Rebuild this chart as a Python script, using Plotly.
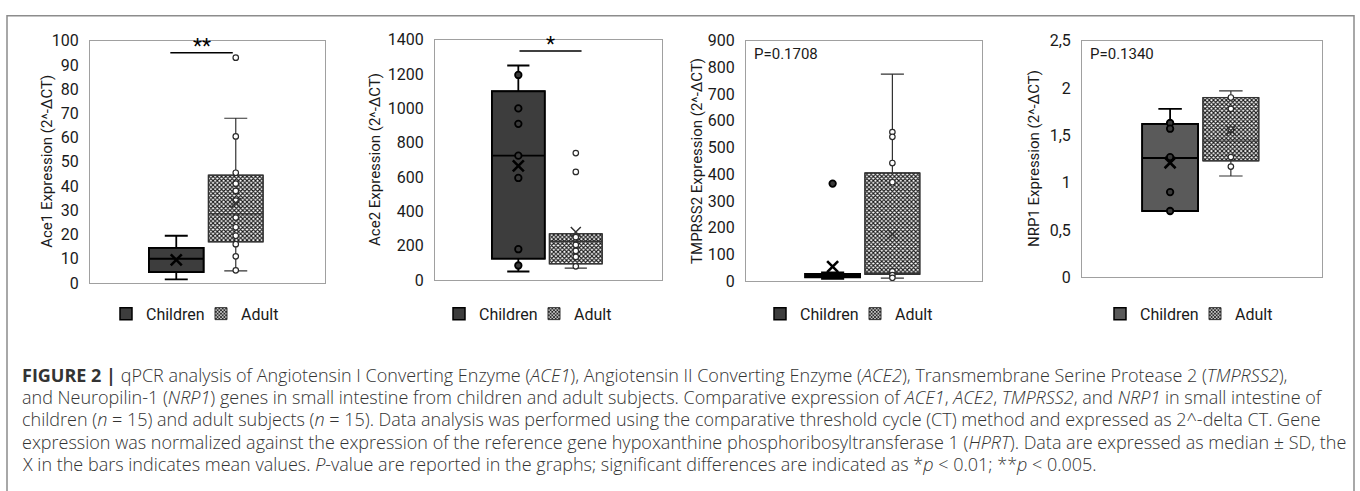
import plotly.graph_objects as go

W, H = 1360, 491

# ---------------- data (index 0 = Children, index 1 = Adult) ----------------
groups = ["Children", "Adult"]
group_pos = [0, 1]

ace1_q1 = [4.5, 17]
ace1_median = [10, 28.5]
ace1_q3 = [14.5, 44.5]
ace1_lower = [1.5, 5]
ace1_upper = [19.5, 68]
ace1_mean = [9.5, 33]
ace1_children_pts = []
ace1_adult_pts = [93, 60.5, 45.5, 41, 38, 34, 27, 23, 19.5, 16, 11, 5.2]

ace2_q1 = [125, 95]
ace2_median = [725, 225]
ace2_q3 = [1100, 270]
ace2_lower = [50, 70]
ace2_upper = [1250, 270]
ace2_mean = [665, 280]
ace2_children_pts = [1195, 1000, 910, 725, 595, 180, 85]
ace2_adult_pts = [740, 630, 250, 205, 170, 135, 80]

tmprss2_q1 = [14, 25]
tmprss2_median = [20, 30]
tmprss2_q3 = [27, 405]
tmprss2_lower = [8, 11]
tmprss2_upper = [32, 775]
tmprss2_mean = [54, 175]
tmprss2_children_pts = [365]
tmprss2_adult_pts = [558, 540, 442, 370, 36, 22, 12]

nrp1_q1 = [0.70, 1.23]
nrp1_median = [1.26, 1.44]
nrp1_q3 = [1.62, 1.90]
nrp1_lower = [0.70, 1.07]
nrp1_upper = [1.78, 1.97]
nrp1_mean = [1.21, 1.55]
nrp1_children_pts = [1.63, 1.57, 1.27, 0.90, 0.70]
nrp1_adult_pts = [1.90, 1.78, 1.56, 1.27, 1.17]

y_titles = ["Ace1 Expression (2^-ΔCT)", "Ace2 Expression (2^-ΔCT)",
            "TMPRSS2 Expression (2^-ΔCT)", "NRP1 Expression (2^-ΔCT)"]
y_ranges = [[0, 100], [0, 1400], [0, 900], [0, 2.5]]
y_dticks = [10, 200, 100, 0.5]
nrp1_tickvals = [0, 0.5, 1, 1.5, 2, 2.5]
nrp1_ticktext = ["0", "0,5", "1", "1,5", "2", "2,5"]
p_labels = [None, None, "P=0.1708", "P=0.1340"]
sig_labels = ["**", "*", None, None]
sig_levels = [95, 1335, None, None]
sig_spans = [[-0.1, 0.95], [0.02, 1.1], None, None]

caption_lines = [
    "<b>FIGURE 2 |</b> qPCR analysis of Angiotensin I Converting Enzyme (<i>ACE1</i>), Angiotensin II Converting Enzyme (<i>ACE2</i>), Transmembrane Serine Protease 2 (<i>TMPRSS2</i>),",
    "and Neuropilin-1 (<i>NRP1</i>) genes in small intestine from children and adult subjects. Comparative expression of <i>ACE1</i>, <i>ACE2</i>, <i>TMPRSS2</i>, and <i>NRP1</i> in small intestine of",
    "children (<i>n</i> = 15) and adult subjects (<i>n</i> = 15). Data analysis was performed using the comparative threshold cycle (CT) method and expressed as 2^-delta CT. Gene",
    "expression was normalized against the expression of the reference gene hypoxanthine phosphoribosyltransferase 1 (<i>HPRT</i>). Data are expressed as median ± SD, the",
    "X in the bars indicates mean values. <i>P</i>-value are reported in the graphs; significant differences are indicated as *<i>p</i> &lt; 0.01; **<i>p</i> &lt; 0.005.",
]

panels = [
    (ace1_q1, ace1_median, ace1_q3, ace1_lower, ace1_upper, ace1_mean, ace1_children_pts, ace1_adult_pts),
    (ace2_q1, ace2_median, ace2_q3, ace2_lower, ace2_upper, ace2_mean, ace2_children_pts, ace2_adult_pts),
    (tmprss2_q1, tmprss2_median, tmprss2_q3, tmprss2_lower, tmprss2_upper, tmprss2_mean, tmprss2_children_pts, tmprss2_adult_pts),
    (nrp1_q1, nrp1_median, nrp1_q3, nrp1_lower, nrp1_upper, nrp1_mean, nrp1_children_pts, nrp1_adult_pts),
]

# ---------------- layout geometry (pixels) ----------------
plot_x = [(90, 325), (435, 662), (746, 982), (1082, 1322)]
plot_y = [(33, 285), (32, 282), (33, 283), (33, 279)]
title_x = [47, 375, 697, 1034]
legend_left = [106, 439, 760, 1100]
legend_y = 317
caption_x = 20
caption_y = [381, 404, 427, 450, 473]
children_fill = ["#3d3d3d", "#3d3d3d", "#3d3d3d", "#5a5a5a"]

FONT = "Roboto, 'Open Sans', Arial, sans-serif"
CAP_FONT = "'Open Sans', 'Liberation Sans', Arial, sans-serif"
BOXW = 0.92

fig = go.Figure()

def ax(i):
    return ("x" if i == 0 else f"x{i+1}", "y" if i == 0 else f"y{i+1}")

def leg(i):
    return "legend" if i == 0 else f"legend{i+1}"

# bars (box bodies with fill / pattern) -> also legend entries
for i, p in enumerate(panels):
    q1, med, q3, lo, up, mn, cp, ap = p
    xa, ya = ax(i)
    heights = [q3[k] - q1[k] for k in range(2)]
    fig.add_trace(go.Bar(
        x=[group_pos[0]], y=[heights[0]], base=[q1[0]], width=BOXW,
        marker=dict(color=children_fill[i], line=dict(color="black", width=1.5)),
        name=groups[0], xaxis=xa, yaxis=ya, legend=leg(i), hoverinfo="skip"))
    fig.add_trace(go.Bar(
        x=[group_pos[1]], y=[heights[1]], base=[q1[1]], width=BOXW,
        marker=dict(color="white", line=dict(color="#333333", width=1),
                    pattern=dict(shape="x", size=3, solidity=0.6,
                                 fgcolor="#1a1a1a", bgcolor="white", fillmode="replace")),
        name=groups[1], xaxis=xa, yaxis=ya, legend=leg(i), hoverinfo="skip"))

# boxes (outline, median, whiskers)
for i, p in enumerate(panels):
    q1, med, q3, lo, up, mn, cp, ap = p
    xa, ya = ax(i)
    for k in range(2):
        fig.add_trace(go.Box(
            x=[group_pos[k]], q1=[q1[k]], median=[med[k]], q3=[q3[k]],
            lowerfence=[lo[k]], upperfence=[up[k]], width=BOXW,
            whiskerwidth=0.42, boxpoints=False,
            fillcolor="rgba(0,0,0,0)",
            line=dict(color="black" if k == 0 else "#333333", width=1.8 if k == 0 else 1.2),
            xaxis=xa, yaxis=ya, showlegend=False, hoverinfo="skip"))

# points and means
for i, p in enumerate(panels):
    q1, med, q3, lo, up, mn, cp, ap = p
    xa, ya = ax(i)
    if cp:
        fig.add_trace(go.Scatter(
            x=[group_pos[0]] * len(cp), y=cp, mode="markers",
            marker=dict(symbol="circle", size=6.5, color="#3a3a3a", line=dict(color="black", width=1.8)),
            xaxis=xa, yaxis=ya, showlegend=False, hoverinfo="skip"))
    if ap:
        fig.add_trace(go.Scatter(
            x=[group_pos[1]] * len(ap), y=ap, mode="markers",
            marker=dict(symbol="circle", size=5.5, color="white", line=dict(color="#2a2a2a", width=1.2)),
            xaxis=xa, yaxis=ya, showlegend=False, hoverinfo="skip"))
    fig.add_trace(go.Scatter(
        x=[group_pos[0]], y=[mn[0]], mode="markers",
        marker=dict(symbol="x-thin", size=11, line=dict(color="black", width=2.6)),
        xaxis=xa, yaxis=ya, showlegend=False, hoverinfo="skip"))
    fig.add_trace(go.Scatter(
        x=[group_pos[1]], y=[mn[1]], mode="markers",
        marker=dict(symbol="x-thin", size=10, line=dict(color="#333333", width=1.5)),
        xaxis=xa, yaxis=ya, showlegend=False, hoverinfo="skip"))

layout = dict(
    width=W, height=H, margin=dict(l=0, r=0, t=0, b=0),
    paper_bgcolor="white", plot_bgcolor="white",
    barmode="overlay", boxmode="overlay",
    font=dict(family=FONT, color="#1a1a1a"),
)
annotations = []
shapes = []
for i in range(4):
    xs = "xaxis" if i == 0 else f"xaxis{i+1}"
    ys = "yaxis" if i == 0 else f"yaxis{i+1}"
    xa, ya = ax(i)
    x0, x1 = plot_x[i]
    yt, yb = plot_y[i]
    layout[xs] = dict(domain=[x0 / W, x1 / W], range=[-1.45, 2.5], anchor=ya,
                      showticklabels=False, ticks="", showgrid=False, zeroline=False,
                      showline=True, mirror=True, linecolor="#a0a0a0", linewidth=1, fixedrange=True)
    yd = dict(domain=[1 - yb / H, 1 - yt / H], range=y_ranges[i], anchor=xa,
              showgrid=False, zeroline=False, ticks="", showline=True, mirror=True,
              linecolor="#a0a0a0", linewidth=1, tickfont=dict(size=16, family=FONT, color="#1a1a1a"),
              ticklabelstandoff=7, fixedrange=True)
    if i == 3:
        yd.update(tickmode="array", tickvals=nrp1_tickvals, ticktext=nrp1_ticktext)
    else:
        yd.update(tickmode="linear", tick0=0, dtick=y_dticks[i])
    layout[ys] = yd
    # y title
    annotations.append(dict(text=y_titles[i], textangle=-90, xref="paper", yref="paper",
                            x=title_x[i] / W, y=1 - (yt + yb) / 2 / H, xanchor="center", yanchor="middle",
                            showarrow=False, font=dict(size=15, family=FONT, color="#1a1a1a")))
    # legend
    layout[leg(i)] = dict(orientation="h", x=legend_left[i] / W, xanchor="left",
                          y=1 - legend_y / H, yanchor="middle", bgcolor="rgba(0,0,0,0)",
                          font=dict(size=16, family=FONT, color="#1a1a1a"), itemwidth=30,
                          entrywidth=50, traceorder="normal", itemclick=False, itemdoubleclick=False)
    if p_labels[i]:
        annotations.append(dict(text=p_labels[i], xref=f"{xa} domain", yref=f"{ya} domain",
                                x=0.025, y=0.945, xanchor="left", yanchor="middle", showarrow=False,
                                font=dict(size=15, family=FONT, color="#1a1a1a")))
    if sig_labels[i]:
        s0, s1 = sig_spans[i]
        shapes.append(dict(type="line", xref=xa, yref=ya, x0=s0, x1=s1,
                           y0=sig_levels[i], y1=sig_levels[i], line=dict(color="black", width=1.5)))
        annotations.append(dict(text=sig_labels[i], xref=xa, yref=ya, x=(s0 + s1) / 2, y=sig_levels[i],
                                xanchor="center", yanchor="bottom", showarrow=False, yshift=-7,
                                font=dict(size=21, family=FONT, color="black")))

for j, line in enumerate(caption_lines):
    annotations.append(dict(text=line, xref="paper", yref="paper", x=caption_x / W,
                            y=1 - caption_y[j] / H, xanchor="left", yanchor="middle", align="left",
                            showarrow=False, font=dict(size=18, family=CAP_FONT, color="#333333", weight=300)))

shapes.append(dict(type="rect", xref="paper", yref="paper", x0=7 / W, x1=1354 / W,
                   y0=-0.05, y1=1 - 7 / H, line=dict(color="#8c8c8c", width=1.5), layer="above"))

layout["annotations"] = annotations
layout["shapes"] = shapes
fig.update_layout(**layout)
fig.write_html("out.html", config={"displayModeBar": False},
               post_script="document.body.style.margin='0';document.body.style.overflow='hidden';")
